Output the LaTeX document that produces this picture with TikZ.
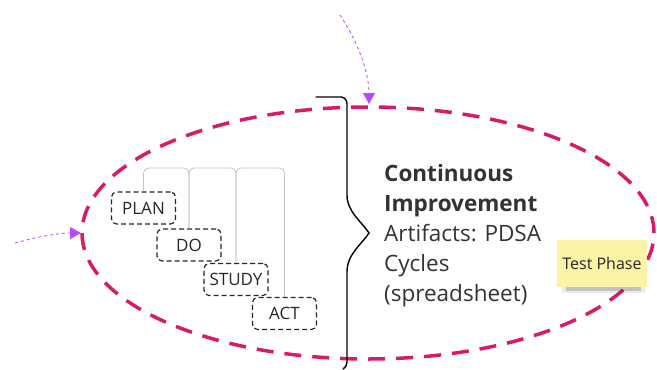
\documentclass[tikz,border=0pt]{standalone}
\usepackage{fontspec}
\setmainfont{Open Sans}
\usetikzlibrary{arrows.meta,calc}
\definecolor{cimag}{HTML}{D81B68}
\definecolor{cpurp}{HTML}{B44CFF}
\definecolor{ctext}{HTML}{333333}
\definecolor{cgray}{HTML}{C4C4C4}
\definecolor{csticky}{HTML}{FBF4A6}
\tikzset{
  x=1pt,y=1pt,
  pdsabox/.style={draw=black!85,line width=1.2pt,dash pattern=on 5pt off 3pt,rounded corners=5pt,
    minimum width=64pt,minimum height=32pt,inner sep=0pt,font=\fontsize{17}{20}\selectfont,text=black!85},
  tabline/.style={draw=cgray,line width=0.8pt,rounded corners=5pt},
  purparrow/.style={draw=cpurp,line width=0.8pt,dash pattern=on 3pt off 3pt,
    -{Triangle[length=11pt,width=12pt,fill=cpurp,sep=0pt]}},
  loopline/.style={draw=cimag,line width=3.5pt,dash pattern=on 17pt off 11pt},
}
\begin{document}
\begin{tikzpicture}
\useasboundingbox (0,0) rectangle (657,-370);
% ellipse
\draw[loopline] (368,-233) ellipse [x radius=286, y radius=126];
% brace
\draw[black,line width=1.4pt,line cap=round]
  (316,-97) -- (341,-97) to[out=0,in=90] (347,-104) -- (347,-195)
  .. controls (347,-212) and (362,-222) .. (369,-233)
  .. controls (362,-244) and (347,-254) .. (347,-272)
  -- (347,-362) to[out=-90,in=30] (343,-369);
% PDSA boxes
\node[pdsabox] (plan) at (143.5,-208) {PLAN};
\node[pdsabox] (do) at (189,-245) {DO};
\node[pdsabox] (study) at (236,-279.5) {STUDY};
\node[pdsabox] (act) at (284.5,-313.5) {ACT};
\coordinate (tabtop) at (0,-168);
\draw[tabline] (plan.north) -- (plan.north |- tabtop) -| (do.north);
\draw[tabline] (do.north) -- (do.north |- tabtop) -| (study.north);
\draw[tabline] (study.north) -- (study.north |- tabtop) -| (act.north);
% main text
\node[anchor=north west,align=left,text=ctext,inner sep=0pt,font=\fontsize{22.5}{30}\selectfont] (main) at (384,-164)
  {\textbf{Continuous}\\\textbf{Improvement}\\Artifacts: PDSA\\Cycles\\(spreadsheet)};
% sticky note
\fill[black,opacity=0.18] (566,-286) rectangle (641,-291);
\fill[black,opacity=0.08] (562,-285) rectangle (645,-293);
\node[fill=csticky,minimum width=90pt,minimum height=47pt,inner sep=0pt,
  font=\fontsize{16}{18}\selectfont,text=black!85] (sticky) at (602,-263.5) {Test Phase};
% purple arrows
\coordinate (s1) at (340,-15);
\coordinate (s2) at (15,-243);
\draw[purparrow] (s1) .. controls (360,-45) and (369,-75) .. (369,-104);
\draw[purparrow] (s2) .. controls (40,-236) and (60,-233) .. (81,-233);
\end{tikzpicture}
\end{document}
